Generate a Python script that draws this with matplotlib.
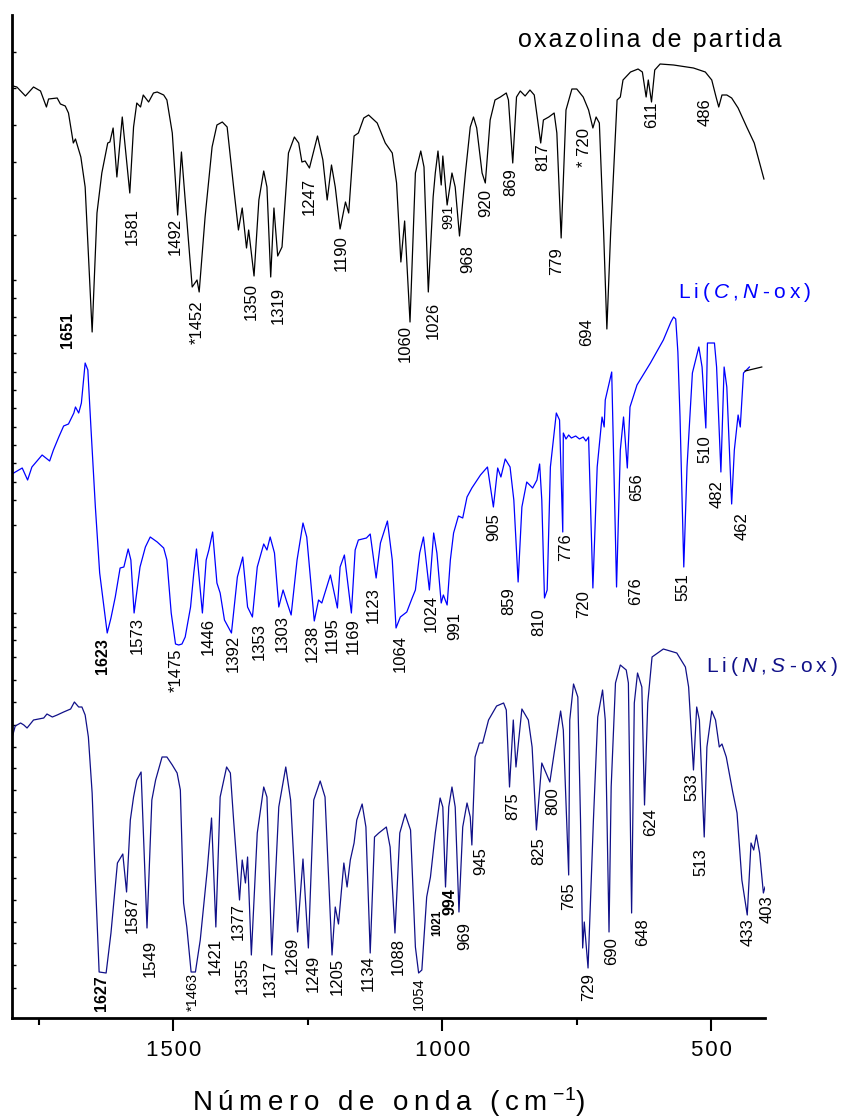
import matplotlib
matplotlib.use("Agg")
import matplotlib.pyplot as plt

plt.rcParams['font.family'] = ['Liberation Sans', 'DejaVu Sans']
plt.rcParams['mathtext.fontset'] = 'custom'
plt.rcParams['mathtext.rm'] = 'Liberation Sans'
plt.rcParams['mathtext.it'] = 'Liberation Sans:italic'

# IR spectra: (wavenumber cm-1, transmittance, offset units)
oxazolina = [
    (1798, 93.1), (1791, 93.0), (1775, 92.1), (1760, 93.0), (1747, 92.6), (1736, 91.0),
    (1732, 91.8), (1716, 91.9), (1710, 91.3), (1701, 91.1), (1695, 90.4), (1686, 87.4),
    (1682, 87.8), (1672, 86.0), (1664, 83.0), (1651, 68.5), (1642, 80.4), (1633, 84.4),
    (1622, 87.4), (1618, 87.5), (1612, 88.9), (1605, 84.0), (1595, 90.0), (1581, 82.4),
    (1574, 89.0), (1568, 91.4), (1561, 91.0), (1556, 92.2), (1546, 91.5), (1537, 92.4),
    (1530, 92.5), (1518, 92.2), (1512, 91.7), (1502, 88.4), (1492, 80.2), (1485, 86.5),
    (1478, 81.7), (1465, 73.0), (1456, 73.7), (1452, 72.5), (1441, 80.0), (1428, 87.0),
    (1419, 89.2), (1409, 89.5), (1400, 89.0), (1388, 83.0), (1379, 78.7), (1372, 80.9),
    (1364, 76.9), (1360, 78.7), (1350, 74.1), (1341, 81.7), (1332, 84.6), (1326, 83.0),
    (1319, 74.0), (1313, 80.9), (1306, 76.1), (1298, 77.0), (1286, 86.4), (1275, 88.0),
    (1267, 87.4), (1261, 85.5), (1255, 85.6), (1247, 84.9), (1232, 88.1), (1222, 85.7),
    (1214, 81.7), (1206, 85.2), (1199, 83.0), (1190, 78.8), (1180, 81.5), (1174, 80.4),
    (1164, 88.1), (1156, 88.4), (1146, 89.9), (1137, 90.2), (1121, 89.4), (1106, 87.4),
    (1093, 86.4), (1085, 83.4), (1077, 75.5), (1070, 79.6), (1060, 69.5), (1050, 84.4),
    (1040, 86.6), (1034, 85.0), (1026, 72.5), (1017, 82.0), (1013, 84.4), (1008, 86.6),
    (1002, 83.2), (999, 86.1), (991, 81.2), (982, 84.4), (976, 83.0), (968, 78.1),
    (957, 84.4), (948, 89.0), (942, 90.0), (936, 88.9), (926, 84.4), (920, 83.4),
    (911, 89.7), (902, 91.7), (892, 92.0), (881, 92.4), (877, 91.7), (869, 85.4),
    (862, 92.0), (855, 92.6), (846, 92.1), (837, 92.7), (829, 92.2), (817, 87.4),
    (812, 89.7), (802, 90.0), (792, 90.4), (787, 88.4), (779, 77.9), (770, 90.7),
    (759, 92.8), (750, 92.8), (738, 92.0), (728, 90.7), (720, 88.9), (714, 90.0),
    (708, 89.4), (700, 78.4), (694, 68.8), (687, 78.4), (675, 91.7), (669, 92.0),
    (664, 93.7), (650, 94.5), (636, 94.8), (628, 94.5), (621, 92.0), (617, 93.7),
    (611, 91.5), (605, 94.7), (595, 95.3), (570, 95.2), (533, 94.9), (511, 94.5),
    (499, 93.7), (491, 92.0), (486, 91.0), (480, 92.2), (471, 92.2), (462, 91.9),
    (450, 90.9), (434, 89.0), (420, 87.4), (413, 86.0), (402, 83.8),
]

li_cn = [
    (1800, 54.3), (1781, 54.9), (1771, 53.7), (1763, 55.0), (1744, 56.2), (1730, 55.6),
    (1723, 56.7), (1713, 58.0), (1704, 59.1), (1695, 59.3), (1685, 60.4), (1682, 61.0),
    (1676, 60.4), (1671, 61.4), (1664, 65.4), (1659, 64.7), (1653, 58.7), (1645, 51.0),
    (1637, 44.4), (1623, 38.4), (1616, 39.9), (1608, 42.0), (1599, 44.9), (1592, 45.0),
    (1584, 46.8), (1579, 45.7), (1573, 40.4), (1562, 45.0), (1552, 47.0), (1543, 48.0),
    (1530, 47.5), (1518, 46.9), (1512, 45.7), (1504, 40.4), (1496, 37.3), (1490, 37.2),
    (1484, 37.3), (1478, 38.0), (1468, 41.0), (1462, 44.4), (1457, 46.8), (1446, 40.4),
    (1439, 45.7), (1434, 46.7), (1427, 48.5), (1419, 43.4), (1413, 42.4), (1405, 39.7),
    (1392, 38.4), (1381, 44.0), (1371, 46.0), (1362, 41.0), (1353, 40.0), (1344, 45.0),
    (1332, 47.3), (1326, 46.7), (1320, 48.0), (1312, 46.4), (1304, 41.0), (1296, 42.7),
    (1289, 41.5), (1281, 40.2), (1270, 45.7), (1259, 49.4), (1252, 48.0), (1238, 39.6),
    (1230, 41.7), (1224, 41.4), (1208, 44.2), (1195, 40.9), (1190, 45.0), (1182, 46.2),
    (1169, 40.4), (1162, 46.7), (1156, 47.7), (1141, 47.9), (1134, 48.3), (1123, 43.9),
    (1115, 47.4), (1109, 48.4), (1102, 49.6), (1093, 45.7), (1086, 38.9), (1078, 40.0),
    (1066, 40.5), (1056, 41.9), (1050, 42.7), (1042, 46.4), (1035, 48.0), (1024, 42.7),
    (1016, 48.4), (1010, 46.4), (1002, 41.4), (998, 42.2), (991, 41.2), (985, 45.7),
    (979, 48.4), (970, 50.1), (962, 49.9), (954, 52.0), (945, 52.9), (929, 54.2),
    (916, 55.0), (905, 51.0), (897, 54.9), (891, 54.0), (883, 55.8), (874, 55.0),
    (867, 51.7), (859, 43.5), (852, 51.0), (843, 53.5), (832, 52.9), (824, 53.7),
    (819, 55.3), (815, 51.7), (810, 41.9), (805, 42.7), (799, 55.0), (788, 60.4),
    (782, 59.7), (776, 48.5), (775, 58.4), (770, 57.8), (765, 58.2), (760, 57.9),
    (752, 58.1), (745, 57.8), (738, 58.0), (733, 57.6), (728, 58.0), (720, 42.9),
    (712, 55.0), (703, 60.0), (699, 59.0), (697, 61.7), (685, 64.5), (676, 43.0),
    (669, 56.7), (663, 60.0), (656, 54.9), (651, 61.0), (638, 63.2), (613, 65.4),
    (589, 67.7), (575, 69.5), (570, 70.0), (566, 69.8), (562, 66.5), (558, 60.0),
    (551, 45.0), (545, 55.0),
    (535, 64.4), (523, 67.0), (517, 65.0), (510, 58.9), (507, 67.4), (494, 67.4),
    (490, 65.0), (482, 54.5), (476, 65.0), (471, 63.0), (462, 51.3), (457, 56.7),
    (450, 60.2), (446, 59.0), (440, 64.4), (429, 65.0),
]
li_cn_tail = [(437, 64.6), (406, 65.0)]

li_ns = [
    (1800, 27.9), (1794, 29.1), (1784, 29.4), (1778, 29.2), (1772, 28.9), (1760, 29.7),
    (1741, 29.9), (1735, 30.3), (1725, 30.0), (1716, 30.2), (1704, 30.5), (1691, 30.8),
    (1684, 31.5), (1676, 31.0), (1670, 31.0), (1664, 30.2), (1658, 28.0), (1651, 22.4),
    (1645, 13.7), (1638, 4.5), (1625, 4.4), (1616, 8.4), (1608, 13.0), (1604, 15.4),
    (1594, 16.3), (1587, 12.5), (1580, 19.7), (1574, 22.0), (1568, 23.7), (1560, 24.5),
    (1549, 8.9), (1540, 21.7), (1533, 23.7), (1521, 26.0), (1512, 26.0), (1502, 25.2),
    (1493, 24.4), (1487, 22.7), (1481, 11.4), (1475, 9.0), (1467, 4.5), (1459, 4.5),
    (1450, 7.7), (1437, 14.7), (1429, 19.9), (1421, 9.0), (1413, 22.0), (1401, 25.0),
    (1394, 24.4), (1388, 19.7), (1377, 11.7), (1372, 15.7), (1366, 13.4), (1362, 16.0),
    (1355, 6.2), (1344, 18.4), (1332, 23.0), (1326, 22.0), (1317, 6.2), (1304, 21.0),
    (1291, 25.0), (1282, 21.7), (1269, 8.5), (1259, 15.8), (1249, 6.9), (1239, 21.7),
    (1227, 23.6), (1218, 22.0), (1205, 6.2), (1199, 11.0), (1193, 9.3), (1183, 15.4),
    (1177, 13.0), (1171, 15.7), (1164, 17.4), (1159, 19.7), (1149, 21.3), (1142, 19.0),
    (1134, 6.4), (1126, 18.0), (1118, 18.4), (1104, 19.0), (1097, 17.0), (1088, 8.4),
    (1079, 18.4), (1069, 20.3), (1059, 18.7), (1050, 7.0), (1044, 4.4), (1038, 4.7),
    (1029, 12.0), (1022, 14.0), (1013, 18.4), (1004, 21.9), (999, 21.0), (994, 13.0),
    (988, 21.0), (982, 23.0), (976, 21.0), (969, 10.5), (962, 19.0), (954, 21.4),
    (948, 20.0), (945, 17.2), (939, 26.0), (931, 27.4), (925, 27.4), (914, 29.7),
    (899, 31.1), (886, 31.4), (881, 30.7), (875, 23.0), (868, 29.7), (863, 25.0),
    (852, 30.8), (840, 29.7), (833, 27.0), (825, 18.7), (815, 25.4), (800, 23.5),
    (792, 26.4), (780, 30.6), (775, 28.7), (765, 14.2), (763, 29.7), (756, 33.3),
    (748, 32.0), (743, 19.7), (739, 6.9), (736, 9.5), (729, 4.9), (719, 19.7),
    (711, 30.0), (702, 32.7), (697, 29.7), (690, 8.5), (686, 23.0), (678, 33.4),
    (669, 35.2), (658, 34.7), (654, 33.4), (648, 10.4), (643, 31.4), (637, 34.4),
    (629, 33.0), (624, 21.2), (618, 31.4), (610, 36.0), (589, 36.8), (564, 36.4),
    (548, 35.0), (542, 33.0), (533, 24.7), (527, 31.0), (522, 29.7), (513, 18.0),
    (508, 27.0), (499, 30.6), (492, 29.7), (485, 27.0), (480, 27.3), (472, 26.0),
    (460, 22.5), (452, 20.4), (443, 13.7), (433, 10.2), (426, 17.4), (421, 16.7),
    (416, 18.2), (410, 16.4), (403, 12.4), (400, 13.0),
]

# peak labels: (text, x, y of label top, style) n=normal s=small b=bold sb=small bold
labels_ox = [
    ("1651", 1696, 70.5, "b"), ("1581", 1577, 80.9, "n"), ("1492", 1497, 79.9, "n"),
    ("*1452", 1456, 71.7, "n"), ("1350", 1356, 73.4, "n"), ("1319", 1305, 73.0, "n"),
    ("1247", 1248, 83.9, "n"), ("1190", 1187, 78.2, "n"), ("1060", 1069, 69.2, "n"),
    ("1026", 1017, 71.5, "n"), ("991", 989, 81.2, "s"), ("968", 952, 77.2, "n"),
    ("920", 919, 82.8, "n"), ("869", 872, 84.9, "n"), ("817", 813, 87.4, "n"),
    ("* 720", 735, 88.9, "n"), ("779", 787, 77.0, "n"), ("694", 731, 69.9, "n"),
    ("611", 610, 91.5, "n"), ("486", 512, 91.9, "n"),
]
labels_cn = [
    ("1623", 1631, 37.9, "b"), ("1573", 1568, 40.0, "n"), ("*1475", 1495, 36.9, "n"),
    ("1446", 1436, 39.9, "n"), ("1392", 1389, 38.2, "n"), ("1353", 1341, 39.4, "n"),
    ("1303", 1298, 40.2, "n"), ("1238", 1242, 39.2, "n"), ("1195", 1205, 40.0, "n"),
    ("1169", 1166, 39.9, "n"), ("1123", 1129, 43.0, "n"), ("1064", 1079, 38.2, "n"),
    ("1024", 1021, 42.2, "n"), ("991", 976, 40.5, "n"), ("905", 904, 50.4, "n"),
    ("859", 876, 43.0, "n"), ("810", 820, 40.9, "n"), ("776", 770, 48.4, "n"),
    ("720", 738, 42.7, "n"), ("676", 640, 44.0, "n"), ("656", 638, 54.4, "n"),
    ("551", 553, 44.4, "n"), ("510", 512, 58.2, "n"), ("482", 489, 53.7, "n"),
    ("462", 443, 50.5, "n"),
]
labels_ns = [
    ("1627", 1633, 4.2, "b"), ("1587", 1577, 12.1, "n"), ("1549", 1543, 7.7, "n"),
    ("*1463", 1464, 4.4, "s"), ("1421", 1423, 7.9, "n"), ("1377", 1380, 11.4, "n"),
    ("1355", 1372, 6.0, "n"), ("1317", 1320, 5.7, "n"), ("1269", 1279, 8.0, "n"),
    ("1249", 1240, 6.2, "n"), ("1205", 1196, 5.9, "n"), ("1134", 1138, 6.2, "n"),
    ("1088", 1082, 7.9, "n"), ("1054", 1043, 4.0, "s"), ("1021", 1010, 10.7, "sb"),
    ("994", 986, 12.9, "b"), ("969", 958, 9.5, "n"), ("945", 928, 17.0, "n"),
    ("875", 869, 22.5, "n"), ("825", 820, 18.0, "n"), ("800", 794, 23.0, "n"),
    ("765", 766, 13.5, "n"), ("729", 727, 4.4, "n"), ("690", 685, 8.0, "n"),
    ("648", 627, 9.9, "n"), ("624", 612, 20.9, "n"), ("533", 536, 24.4, "n"),
    ("513", 519, 16.9, "n"), ("433", 432, 9.9, "n"), ("403", 396, 12.2, "n"),
]

xticks_major = [1500, 1000, 500]
xticks_minor = [1750, 1250, 750]
yticks = [96.5, 92.9, 89.2, 85.5, 81.9, 78.2, 73.7, 71.9, 70.0, 68.2, 66.4, 64.5,
          62.7, 60.9, 59.0, 57.2, 55.4, 53.5, 51.7, 49.2, 44.5, 40.4, 39.0, 37.7,
          36.0, 33.7, 31.5, 29.2, 27.0, 24.9, 22.7, 20.5, 18.4, 16.0, 13.9, 11.7,
          9.5, 7.4, 5.2, 2.9]

styles = {"n": (12, "normal"), "s": (10.5, "normal"), "b": (11.5, "bold"), "sb": (8.5, "bold")}
HS = "\u200a"   # hair space
TS = "\u2009"   # thin space


def spaced(s, sep=HS):
    return sep.join(s)


fig = plt.figure(figsize=(8.44, 11.2), dpi=100)
ax = fig.add_axes([12 / 844, 1 - 1018 / 1120, (765 - 12) / 844, (1018 - 15) / 1120])

for data, color in [(oxazolina, "black"), (li_cn, "#0000ff"), (li_ns, "#101088"), (li_cn_tail, "black")]:
    xs, ys = zip(*data)
    ax.plot(xs, ys, color=color, lw=0.9)

for group in (labels_ox, labels_cn, labels_ns):
    for txt, x, y, st in group:
        size, weight = styles[st]
        ax.text(x, y, txt, rotation=90, ha="center", va="top", fontsize=size,
                fontweight=weight, color="black")

ax.text(859, 97.7, spaced("oxazolina de partida"), fontsize=18, ha="left", va="center")
ax.text(562, 72.4, TS.join(["L", "i", "(", "$\\mathit{C}$", ",", "$\\mathit{N}$", "-", "o", "x", ")"]),
        fontsize=15, ha="left", va="center", color="#0000ff")
ax.text(510, 35.0, TS.join(["L", "i", "(", "$\\mathit{N}$", ",", "$\\mathit{S}$", "-", "o", "x", ")"]),
        fontsize=15, ha="left", va="center", color="#101088")

ax.set_xlim(1800, 400)
ax.set_ylim(-0.1, 100.2)
ax.set_xticks(xticks_major)
ax.set_xticklabels([spaced(str(t)) for t in xticks_major])
ax.set_xticks(xticks_minor, minor=True)
ax.set_yticks(yticks)
ax.set_yticklabels([])
ax.tick_params(axis="x", which="major", direction="out", length=9, width=1.5, labelsize=16, pad=7)
ax.tick_params(axis="x", which="minor", direction="out", length=5, width=1.5)
ax.tick_params(axis="y", which="both", direction="in", length=3, width=1)
for side in ("top", "right"):
    ax.spines[side].set_visible(False)
for side in ("left", "bottom"):
    ax.spines[side].set_linewidth(2)

ax.set_xlabel(spaced("Número de onda (cm", TS) + TS + "$^{-1}$" + ")", fontsize=20, labelpad=17)

fig.savefig("out.png", dpi=100)
